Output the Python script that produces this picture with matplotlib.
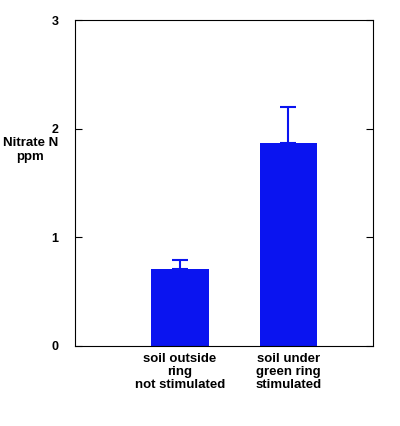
import matplotlib
matplotlib.use("Agg")
import matplotlib.pyplot as plt

categories = ["soil outside\nring\nnot stimulated", "soil under\ngreen ring\nstimulated"]
values = [0.71, 1.87]
errors = [0.08, 0.33]
yticks = [0, 1, 2, 3]

plt.rcParams['font.family'] = ['Liberation Sans', 'DejaVu Sans']
fig = plt.figure(figsize=(4, 4.26), dpi=100)
ax = fig.add_axes([0.1875, 0.188, 0.745, 0.765])
pos = [1, 2]
ax.bar(pos, values, width=0.53, color='#0a14f0', zorder=2)
ax.errorbar(pos, values, yerr=[[0, 0], errors], fmt='none', ecolor='#0a14f0',
            elinewidth=1.5, capsize=6, capthick=1.5, zorder=3)
ax.set_xlim(0.03, 2.78)
ax.set_ylim(0, 3)
ax.set_yticks(yticks)
ax.set_yticklabels([str(t) for t in yticks], fontweight='bold', fontsize=9)
ax.tick_params(axis='y', direction='in', right=True, length=5, pad=12)
ax.set_xticks(pos)
ax.set_xticklabels(categories, fontweight='bold', fontsize=9.5, linespacing=1.1)
ax.tick_params(axis='x', length=0, pad=5)
ax.text(-0.15, 0.6, "Nitrate N\nppm", transform=ax.transAxes, ha='center', va='center',
        fontweight='bold', fontsize=9.5)
fig.savefig("out.png", dpi=100)
